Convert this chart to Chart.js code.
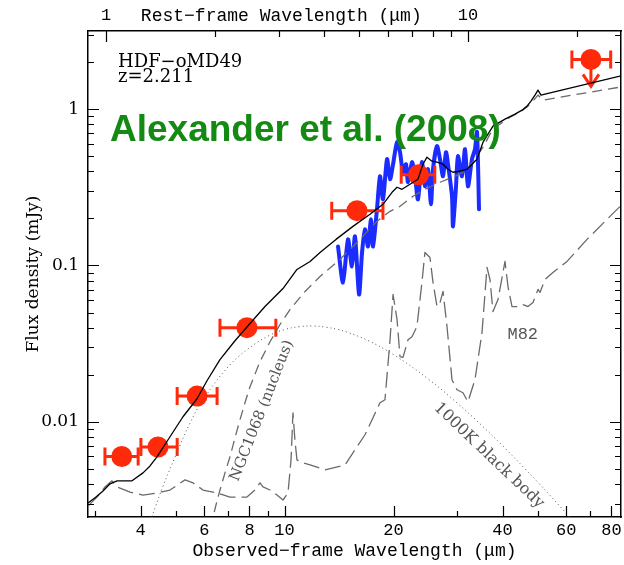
<!DOCTYPE html>
<html>
<head>
<meta charset="utf-8">
<script src="https://cdn.jsdelivr.net/npm/chart.js@4/dist/chart.umd.min.js"></script>
<style>
  html, body { margin: 0; padding: 0; background: #fff; }
  canvas { display: block; }
</style>
</head>
<body>
<canvas id="sed" width="624" height="565"></canvas>
<script>
// HDF-oMD49 spectral energy distribution (Alexander et al. 2008)
const REDSHIFT = 2.211;
const X_RANGE = [2.864, 85.0];      // observed wavelength, micron
const Y_RANGE = [0.00246, 3.16];    // flux density, mJy

// Photometry: wavelength, flux, band edges, upper limit flag
const photLambda = [3.55, 4.47, 5.73, 7.87, 15.85, 23.44, 70.2];
const photFlux   = [0.0060, 0.0069, 0.0146, 0.040, 0.224, 0.380, 2.08];
const photLo     = [3.19, 4.01, 5.05, 6.63, 13.5, 21.0, 62.2];
const photHi     = [3.94, 5.05, 6.51, 9.46, 18.7, 26.0, 79.6];
const photUpper  = [false, false, false, false, false, false, true];

// IRS spectrum
const specLambda = [14.05,14.50,14.97,15.35,15.65,16.06,16.37,16.68,17.00,17.33,17.55,18.00,18.35,18.70,19.19,19.56,19.94,20.45,20.84,21.24,21.65,21.93,22.49,22.93,23.36,23.96,24.42,24.90,25.38,25.71,26.37,26.88,27.40,27.92,28.28,29.01,29.19,29.76,30.13,30.91,31.51,32.11,32.94,33.57,34.01,34.45];
const specFlux   = [0.1323,0.0778,0.1468,0.0986,0.1534,0.0652,0.1211,0.1701,0.1323,0.1972,0.1323,0.2286,0.372,0.2649,0.4782,0.3559,0.4441,0.6146,0.530,0.3946,0.4441,0.3405,0.4575,0.372,0.2649,0.4575,0.321,0.4125,0.2461,0.4125,0.5793,0.4782,0.372,0.530,0.4441,0.2769,0.1778,0.321,0.4999,0.372,0.5542,0.321,0.4782,0.5542,0.7124,0.2286];

// Total model
const totalLambda = [2.864,3.013,3.151,3.294,3.445,3.624,3.789,4.064,4.249,4.441,4.825,5.24,5.73,6.105,6.631,7.295,8.026,8.83,9.90,10.82,11.76,12.53,13.87,15.45,17.22,18.70,19.81,20.45,21.11,22.21,23.36,24.12,24.74,25.54,26.37,27.40,28.28,29.19,30.52,31.91,34.00,35.34,37.65,40.64,43.31,45.29,46.75,47.94,49.18,50.13,51.1,52.41,85.0];
const totalFlux   = [0.00302,0.00330,0.00361,0.00401,0.00419,0.00419,0.00419,0.00471,0.00522,0.00597,0.00802,0.01077,0.01404,0.01831,0.0250,0.0330,0.0425,0.0546,0.0712,0.0943,0.1061,0.1211,0.1468,0.1778,0.2123,0.2461,0.2938,0.3163,0.3071,0.3306,0.3559,0.4442,0.4926,0.4643,0.4575,0.4442,0.4125,0.3946,0.4005,0.4125,0.4782,0.6146,0.7783,0.863,0.929,0.985,1.045,1.125,1.230,1.324,1.230,1.248,1.63];

// NGC1068 nucleus template
const agnLambda = [6.25,6.343,6.465,6.631,6.845,7.067,7.295,7.531,7.774,8.026,8.553,9.115,9.714,10.35,11.39,12.53,14.23,16.16,18.00,19.56,20.84,22.64,24.42,26.88,29.19,31.51,33.57,35.34,36.94,38.62,41.95,44.72,47.04,48.56,50.13,51.75,85.0];
const agnFlux   = [0.0021,0.00246,0.002935,0.00366,0.00471,0.00597,0.0079,0.0103,0.01323,0.01676,0.02427,0.0325,0.0419,0.0522,0.0682,0.0850,0.1093,0.1468,0.1915,0.2220,0.2390,0.2769,0.3071,0.3405,0.3666,0.4005,0.4782,0.5709,0.6917,0.7783,0.8889,0.9567,1.0453,1.1254,1.2297,1.1419,1.386];

// M82 starburst template
const m82Lambda = [2.864,3.033,3.191,3.336,3.445,3.741,4.064,4.441,4.825,5.307,5.585,5.95,6.506,7.067,7.874,8.285,8.553,8.718,9.115,9.53,9.90,10.22,10.42,10.55,10.68,10.82,11.24,11.76,12.94,14.69,16.68,18.35,18.94,19.56,19.94,20.45,20.84,21.24,21.93,22.49,23.21,23.96,24.42,25.22,25.71,26.37,26.88,27.40,28.10,29.01,29.94,31.11,32.11,33.57,35.11,36.24,36.94,37.65,38.87,40.64,41.42,42.49,43.87,45.58,47.04,48.56,50.13,50.77,52.41,55.14,60.3,68.47,77.76,85.0];
const m82Flux   = [0.00289,0.00330,0.00383,0.00419,0.00383,0.00355,0.0034,0.0035,0.00366,0.00425,0.00407,0.00366,0.0035,0.0033,0.0033,0.00366,0.00407,0.00383,0.00366,0.0034,0.00316,0.0035,0.00571,0.01141,0.00767,0.00571,0.00546,0.0053,0.00492,0.0053,0.00826,0.01323,0.01383,0.0335,0.0652,0.0451,0.02613,0.0258,0.0335,0.035,0.0407,0.0778,0.1211,0.1125,0.0778,0.0546,0.0579,0.0682,0.0407,0.01858,0.01603,0.01534,0.01343,0.01858,0.0372,0.0971,0.0813,0.0507,0.0605,0.1061,0.0733,0.0546,0.0546,0.0562,0.0546,0.0579,0.0702,0.0672,0.0813,0.0902,0.1061,0.1468,0.1972,0.242];

// 1000K black body
const bbLambda = [4.3,4.4,4.6,5.0,5.5,6.0,7.0,8.0,9.0,10,11,12,13,14,15,17,20,25,30,35,40,50,60,62,66];
const bbFlux   = [0.00247,0.00287,0.0038,0.00607,0.0100,0.0142,0.0226,0.0297,0.0353,0.0389,0.0406,0.041,0.0403,0.039,0.0372,0.0331,0.0269,0.0187,0.01316,0.0095,0.00703,0.00412,0.0026,0.00239,0.00203];

// Axis ticks
const obsTicks       = [4, 6, 8, 10, 20, 40, 60, 80];
const obsMinorTicks  = [3, 5, 7, 9, 30, 50, 70];
const restTicks      = [1, 10];
const restMinorTicks = [2, 3, 4, 5, 6, 7, 8, 9, 20];
const fluxTicks      = [0.01, 0.1, 1];
const fluxMinorTicks = [0.003,0.004,0.005,0.006,0.007,0.008,0.009,0.02,0.03,0.04,0.05,0.06,0.07,0.08,0.09,0.2,0.3,0.4,0.5,0.6,0.7,0.8,0.9,2,3];

const SERIF = '"DejaVu Serif", serif';
const MONO  = '"Liberation Mono", monospace';
const SANS  = '"Liberation Sans", Arial, sans-serif';
const RED   = '#ff2a0a';
const GREY  = '#6a6a6a';

const pts = (xs, ys) => xs.map((x, i) => ({ x, y: ys[i] }));
const fixedTicks = vals => scale => { scale.ticks = vals.map(v => ({ value: v })); };
const noPad = size => scale => {
  if (scale.isHorizontal()) scale.height = size; else scale.width = size;
  scale.paddingLeft = scale.paddingRight = scale.paddingTop = scale.paddingBottom = 0;
};
const frameBorder = { display: true, color: '#000', width: 1.5 };

const decor = {
  id: 'decor',
  beforeDatasetDraw(chart, args) {
    if (chart.data.datasets[args.index].label !== 'photometry') return;
    const { ctx, scales: { x, y } } = chart;
    ctx.save();
    ctx.strokeStyle = RED;
    ctx.lineWidth = 3;
    photLambda.forEach((l, i) => {
      const py = y.getPixelForValue(photFlux[i]);
      const x0 = x.getPixelForValue(photLo[i]);
      const x1 = x.getPixelForValue(photHi[i]);
      ctx.beginPath();
      ctx.moveTo(x0, py); ctx.lineTo(x1, py);
      ctx.moveTo(x0, py - 9); ctx.lineTo(x0, py + 9);
      ctx.moveTo(x1, py - 9); ctx.lineTo(x1, py + 9);
      if (photUpper[i]) {
        const px = x.getPixelForValue(l);
        ctx.moveTo(px, py); ctx.lineTo(px, py + 27);
        ctx.moveTo(px - 8, py + 15); ctx.lineTo(px, py + 27); ctx.lineTo(px + 8, py + 15);
      }
      ctx.stroke();
    });
    ctx.restore();
  },
  afterDraw(chart) {
    const { ctx, chartArea: a, scales: { x, y, xRest } } = chart;
    ctx.save();
    // inward tick marks on all four sides
    ctx.strokeStyle = '#000';
    ctx.lineWidth = 1.2;
    ctx.beginPath();
    const tickX = (scale, vals, len) => vals.forEach(v => {
      const p = Math.round(scale.getPixelForValue(v)) + 0.5;
      if (scale === xRest) { ctx.moveTo(p, a.top); ctx.lineTo(p, a.top + len); }
      else { ctx.moveTo(p, a.bottom); ctx.lineTo(p, a.bottom - len); }
    });
    const tickY = (vals, len) => vals.forEach(v => {
      const p = Math.round(y.getPixelForValue(v)) + 0.5;
      ctx.moveTo(a.left, p); ctx.lineTo(a.left + len, p);
      ctx.moveTo(a.right, p); ctx.lineTo(a.right - len, p);
    });
    tickX(x, obsTicks, 11); tickX(x, obsMinorTicks, 6);
    tickX(xRest, restTicks, 11); tickX(xRest, restMinorTicks, 6);
    tickY(fluxTicks, 11); tickY(fluxMinorTicks, 6);
    ctx.stroke();

    // top axis title, placed between the rest-frame 1 and 10 labels
    ctx.fillStyle = '#000';
    ctx.font = '18px ' + MONO;
    ctx.textAlign = 'center';
    ctx.textBaseline = 'middle';
    ctx.fillText('Rest\u2212frame Wavelength (\u03bcm)', xRest.getPixelForValue(3.05), 16);

    // source name and redshift
    ctx.textAlign = 'left';
    ctx.textBaseline = 'alphabetic';
    ctx.font = '18px ' + SERIF;
    ctx.fillText('HDF\u2212oMD49', a.left + 30, 67);
    ctx.fillText('z=' + REDSHIFT, a.left + 30, 82);

    // reference
    ctx.fillStyle = '#148a14';
    ctx.font = 'bold 37px ' + SANS;
    ctx.fillText('Alexander et al. (2008)', a.left + 22, 141);

    // component labels
    const label = (text, lx, ly, deg, font) => {
      ctx.save();
      ctx.translate(x.getPixelForValue(lx), y.getPixelForValue(ly));
      ctx.rotate(deg * Math.PI / 180);
      ctx.font = font;
      ctx.fillStyle = '#555';
      ctx.textAlign = 'center';
      ctx.textBaseline = 'middle';
      ctx.fillText(text, 0, 0);
      ctx.restore();
    };
    label('M82', 45.5, 0.036, 0, '17px ' + MONO);
    label('NGC1068 (nucleus)', 8.66, 0.01176, -68.5, '15px ' + SERIF);
    label('1000K black body', 36.7, 0.00607, 43.5, '16px ' + SERIF);
    ctx.restore();
  }
};

const line = (label, xs, ys, style) => Object.assign({
  label, data: pts(xs, ys), pointRadius: 0, fill: false, tension: 0,
  borderJoinStyle: 'round'
}, style);

new Chart(document.getElementById('sed'), {
  type: 'line',
  data: {
    datasets: [
      line('spectrum', specLambda, specFlux, { borderColor: '#1a2cff', borderWidth: 4, borderCapStyle: 'round', tension: 0.25, order: 6 }),
      { label: 'photometry', data: pts(photLambda, photFlux), showLine: false, pointRadius: 10.5,
        pointBackgroundColor: RED, pointBorderColor: RED, pointBorderWidth: 0, order: 5 },
      line('black body', bbLambda, bbFlux, { borderColor: '#555', borderWidth: 1, borderDash: [1, 3], tension: 0.4, order: 4 }),
      line('M82', m82Lambda, m82Flux, { borderColor: GREY, borderWidth: 1.3, borderDash: [16, 6], order: 3 }),
      line('NGC1068', agnLambda, agnFlux, { borderColor: GREY, borderWidth: 1.3, borderDash: [10, 6], order: 2 }),
      line('total', totalLambda, totalFlux, { borderColor: '#000', borderWidth: 1.3, order: 1 })
    ]
  },
  options: {
    responsive: false,
    devicePixelRatio: 1,
    animation: false,
    layout: { padding: 0, autoPadding: false },
    plugins: { legend: { display: false }, tooltip: { enabled: false } },
    scales: {
      x: {
        type: 'logarithmic', position: 'bottom', min: X_RANGE[0], max: X_RANGE[1],
        afterBuildTicks: fixedTicks(obsTicks), afterFit: noPad(48),
        grid: { display: false, drawTicks: false }, border: frameBorder,
        ticks: { autoSkip: false, maxRotation: 0, padding: 3, color: '#000',
                 font: { family: MONO, size: 17 }, callback: v => String(v) },
        title: { display: true, text: 'Observed\u2212frame Wavelength (\u03bcm)', color: '#000',
                 font: { family: MONO, size: 18 }, padding: { top: 0, bottom: 3 } }
      },
      xRest: {
        type: 'logarithmic', position: 'top',
        min: X_RANGE[0] / (1 + REDSHIFT), max: X_RANGE[1] / (1 + REDSHIFT),
        afterBuildTicks: fixedTicks(restTicks), afterFit: noPad(31),
        grid: { display: false, drawTicks: false }, border: frameBorder,
        ticks: { autoSkip: false, maxRotation: 0, padding: 5, color: '#000',
                 font: { family: MONO, size: 17 }, callback: v => String(v) }
      },
      y: {
        type: 'logarithmic', position: 'left', min: Y_RANGE[0], max: Y_RANGE[1],
        afterBuildTicks: fixedTicks(fluxTicks), afterFit: noPad(88),
        grid: { display: false, drawTicks: false }, border: frameBorder,
        ticks: { autoSkip: false, padding: 9, color: '#000',
                 font: { family: SERIF, size: 17 }, callback: v => String(v) },
        title: { display: true, text: 'Flux density (mJy)', color: '#000',
                 font: { family: SERIF, size: 17 }, padding: { top: 23, bottom: 0 } }
      },
      yRight: {
        type: 'logarithmic', position: 'right', min: Y_RANGE[0], max: Y_RANGE[1],
        afterFit: noPad(3),
        grid: { display: false, drawTicks: false }, border: frameBorder,
        ticks: { display: false }
      }
    }
  },
  plugins: [decor]
});
</script>
</body>
</html>
